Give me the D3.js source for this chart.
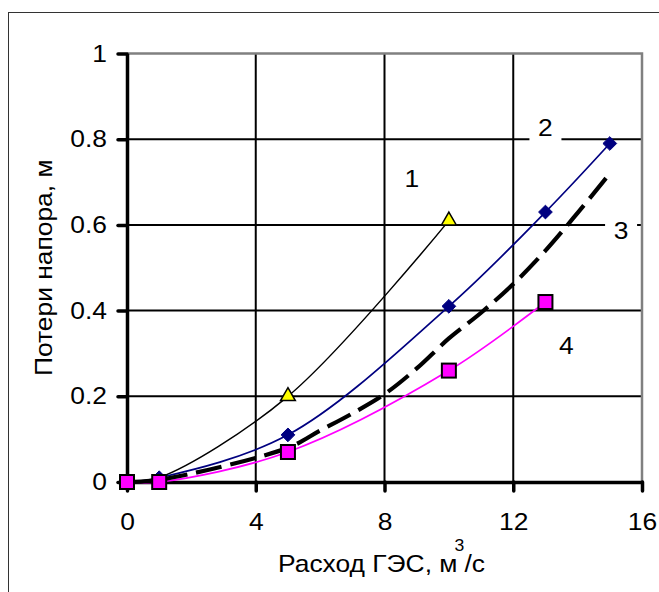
<!DOCTYPE html>
<html>
<head>
<meta charset="utf-8">
<script src="https://cdn.jsdelivr.net/npm/d3@7"></script>
<style>
  html, body { margin: 0; padding: 0; background: #fff; }
  svg { display: block; }
  text { font-family: Arial, "Liberation Sans", sans-serif; fill: #000; }
</style>
</head>
<body>
<svg id="chart" width="659" height="592"></svg>
<script>
// Head losses vs. hydro plant discharge
const xTicks = [0, 4, 8, 12, 16];
const yTicks = [0, 0.2, 0.4, 0.6, 0.8, 1];
const yTickLabels = ["0", "0.2", "0.4", "0.6", "0.8", "1"];

// Curve 1: black line, yellow triangles
const q1 = [0, 1, 5, 10];
const h1 = [0, 0.01, 0.2, 0.61];
// Curve 2: navy line, diamonds
const q2 = [0, 1, 5, 10, 13, 15];
const h2 = [0, 0.01, 0.11, 0.41, 0.63, 0.79];
// Curve 3: thick dashed line, no markers
const q3 = [0, 1, 5, 6, 7, 8, 9, 10, 11, 12, 13, 14, 15];
const h3 = [0, 0.005, 0.08, 0.12, 0.16, 0.205, 0.265, 0.335, 0.395, 0.462, 0.54, 0.628, 0.72];
// Curve 4: magenta line, squares
const q4 = [0, 1, 5, 10, 13];
const h4 = [0, 0, 0.07, 0.26, 0.42];

const curveLabels = ["1", "2", "3", "4"];
const labelQ = [8.85, 13.0, 15.35, 13.65];
const labelH = [0.708, 0.828, 0.587, 0.318];

const xTitle = "Расход ГЭС, м";
const yTitle = "Потери напора, м";

const FONT = 24;      // main text size
const STRETCH = 1.1;  // text is drawn slightly wide

const svg = d3.select("#chart");
const plotL = 127, plotR = 642, plotT = 53.5, plotB = 482;
const x = d3.scaleLinear().domain([0, 16]).range([plotL, plotR]);
const y = d3.scaleLinear().domain([0, 1]).range([plotB, plotT]);

// widen a text element horizontally around its anchor x
function widen(sel, k = STRETCH) {
  sel.each(function () {
    const t = d3.select(this);
    const ax = +t.attr("x") || 0;
    const prev = t.attr("transform") || "";
    t.attr("transform", `${prev} translate(${ax},0) scale(${k},1) translate(${-ax},0)`);
  });
}

// outer frame
svg.append("rect")
  .attr("x", 8.5).attr("y", 12.5).attr("width", 700).attr("height", 700)
  .attr("fill", "none").attr("stroke", "#333").attr("stroke-width", 1);

// gridlines
const grid = svg.append("g");
grid.selectAll("line.gx").data(xTicks.filter(d => d > 0 && d < 16)).join("line")
  .attr("x1", d => x(d)).attr("x2", d => x(d))
  .attr("y1", plotT).attr("y2", plotB)
  .attr("stroke", "#000").attr("stroke-width", 2);
grid.selectAll("line.gy").data(yTicks.filter(d => d > 0 && d < 1)).join("line")
  .attr("x1", plotL).attr("x2", plotR)
  .attr("y1", d => y(d)).attr("y2", d => y(d))
  .attr("stroke", "#000").attr("stroke-width", 2);

// plot area border (top and right)
svg.append("path")
  .attr("d", `M${plotL},${plotT}H${plotR}V${plotB}`)
  .attr("fill", "none").attr("stroke", "#808080").attr("stroke-width", 2.5);

// curve labels on white boxes
const lab = svg.append("g");
curveLabels.forEach((t, i) => {
  const cx = x(labelQ[i]), cy = y(labelH[i]);
  lab.append("rect")
    .attr("x", cx - 16).attr("y", cy - 17).attr("width", 32).attr("height", 34)
    .attr("fill", "#fff");
  lab.append("text")
    .attr("x", cx).attr("y", cy).attr("dy", "0.35em")
    .attr("text-anchor", "middle").attr("font-size", FONT).text(t)
    .call(widen);
});

// axes
const gx = svg.append("g").attr("transform", `translate(0,${plotB})`)
  .call(d3.axisBottom(x).tickValues(xTicks).tickSize(9).tickSizeOuter(0).tickPadding(22));
const gy = svg.append("g").attr("transform", `translate(${plotL},0)`)
  .call(d3.axisLeft(y).tickValues(yTicks).tickFormat((d, i) => yTickLabels[i])
    .tickSize(9).tickSizeOuter(0).tickPadding(11));
[gx, gy].forEach(g => {
  g.select(".domain").attr("stroke", "#000").attr("stroke-width", 3.5);
  g.selectAll(".tick line").attr("stroke", "#000").attr("stroke-width", 3.5)
    .attr("stroke-linecap", "round");
  g.selectAll(".tick text").attr("font-size", FONT)
    .attr("font-family", "Arial, 'Liberation Sans', sans-serif").attr("fill", "#000")
    .call(widen);
});

// curves
const line = d3.line().x(d => x(d[0])).y(d => y(d[1])).curve(d3.curveCatmullRom.alpha(0.5));
const pts = (q, h) => q.map((v, i) => [v, h[i]]);

svg.append("path").datum(pts(q1, h1)).attr("d", line)
  .attr("fill", "none").attr("stroke", "#000").attr("stroke-width", 1.5);
svg.append("path").datum(pts(q2, h2)).attr("d", line)
  .attr("fill", "none").attr("stroke", "#000080").attr("stroke-width", 1.7);
svg.append("path").datum(pts(q4, h4)).attr("d", line)
  .attr("fill", "none").attr("stroke", "#ff00ff").attr("stroke-width", 1.7);
svg.append("path").datum(pts(q3, h3)).attr("d", line)
  .attr("fill", "none").attr("stroke", "#000").attr("stroke-width", 4.2)
  .attr("stroke-dasharray", "26,9");

// markers
const mk = svg.append("g");
mk.selectAll("path.tri").data(pts(q1, h1).slice(2)).join("path")
  .attr("transform", d => `translate(${x(d[0])},${y(d[1])})`)
  .attr("d", d3.symbol(d3.symbolTriangle, 95))
  .attr("fill", "#ffff00").attr("stroke", "#000").attr("stroke-width", 1.5);
mk.selectAll("path.dia").data(pts(q2, h2).slice(1)).join("path")
  .attr("transform", d => `translate(${x(d[0])},${y(d[1])})`)
  .attr("d", d3.symbol(d3.symbolDiamond2, 120))
  .attr("fill", "#000080").attr("stroke", "#000080").attr("stroke-width", 1);
mk.selectAll("rect.sq").data(pts(q4, h4)).join("rect")
  .attr("x", d => x(d[0]) - 7).attr("y", d => y(d[1]) - 7)
  .attr("width", 14).attr("height", 14)
  .attr("fill", "#ff00ff").attr("stroke", "#000").attr("stroke-width", 2);

// axis titles
const xtG = svg.append("g");
const x0 = 278;
const xt = xtG.append("text").attr("x", x0).attr("y", 572)
  .attr("text-anchor", "start").attr("font-size", FONT).text(xTitle);
const w0 = xt.node().getBBox().width * STRETCH;
xt.call(widen);
const sup = xtG.append("text").attr("x", x0 + w0 - 3).attr("y", 551)
  .attr("font-size", 16).text("3");
const w1 = sup.node().getBBox().width * STRETCH;
sup.call(widen);
xtG.append("text").attr("x", x0 + w0 - 3 + w1).attr("y", 572)
  .attr("font-size", FONT).text("/с").call(widen);

svg.append("text")
  .attr("transform", `translate(52,${(plotT + plotB) / 2}) rotate(-90) scale(${STRETCH},1)`)
  .attr("text-anchor", "middle").attr("font-size", FONT).text(yTitle);
</script>
</body>
</html>
